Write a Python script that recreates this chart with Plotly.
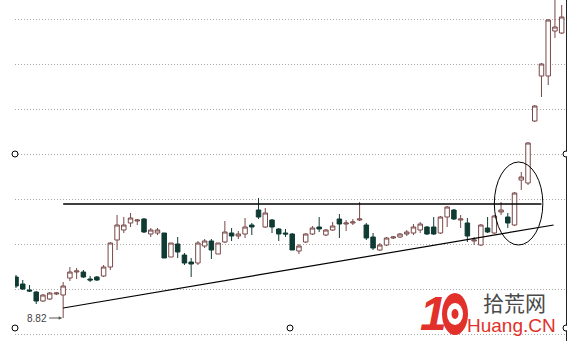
import plotly.graph_objects as go

# ---------------- data ----------------
idx = list(range(82))
opens = [9.23, 9.16, 9.10, 9.08, 8.99, 9.01, 9.06, 9.05, 9.22, 9.28,
         9.28, 9.21, 9.23, 9.24, 9.33, 9.60, 9.70, 9.77, 9.79, 9.81,
         9.66, 9.67, 9.67, 9.43, 9.56, 9.45, 9.38, 9.37, 9.54, 9.59,
         9.46, 9.58, 9.67, 9.64, 9.66, 9.75, 9.90, 9.73, 9.80, 9.71,
         9.67, 9.66, 9.49, 9.58, 9.66, 9.73, 9.65, 9.70, 9.81, 9.76,
         9.77, 9.80, 9.75, 9.63, 9.50, 9.55, 9.62, 9.63, 9.66, 9.67,
         9.70, 9.73, 9.73, 9.67, 9.83, 9.90, 9.80, 9.77, 9.59, 9.55,
         9.72, 9.67, 9.88, 9.83, 9.75, 10.20, 10.17, 10.79, 11.24, 11.24,
         11.69, 11.67]
highs = [9.25, 9.20, 9.15, 9.09, 9.06, 9.08, 9.08, 9.18, 9.33, 9.32,
         9.30, 9.24, 9.24, 9.35, 9.58, 9.85, 9.83, 9.87, 9.81, 9.82,
         9.72, 9.72, 9.67, 9.57, 9.63, 9.47, 9.42, 9.59, 9.61, 9.61,
         9.57, 9.79, 9.72, 9.69, 9.82, 9.77, 10.02, 9.92, 9.81, 9.72,
         9.71, 9.67, 9.56, 9.67, 9.74, 9.83, 9.71, 9.78, 9.86, 9.80,
         9.81, 9.98, 9.77, 9.67, 9.57, 9.63, 9.64, 9.67, 9.70, 9.76,
         9.78, 9.74, 9.83, 9.84, 9.94, 9.91, 9.85, 9.82, 9.63, 9.76,
         9.83, 9.85, 9.98, 9.87, 10.08, 10.28, 10.58, 10.95, 11.37, 11.81,
         12.05, 11.95]
lows = [9.12, 9.10, 9.08, 8.96, 8.98, 9.00, 9.05, 8.82, 9.19, 9.21,
        9.22, 9.18, 9.19, 9.23, 9.30, 9.50, 9.67, 9.73, 9.75, 9.67,
        9.63, 9.65, 9.42, 9.43, 9.42, 9.35, 9.23, 9.35, 9.52, 9.41,
        9.46, 9.57, 9.59, 9.61, 9.62, 9.65, 9.81, 9.72, 9.67, 9.59,
        9.63, 9.50, 9.46, 9.57, 9.65, 9.68, 9.64, 9.69, 9.62, 9.69,
        9.75, 9.79, 9.60, 9.50, 9.49, 9.54, 9.61, 9.62, 9.64, 9.65,
        9.67, 9.65, 9.65, 9.66, 9.73, 9.80, 9.72, 9.58, 9.55, 9.54,
        9.67, 9.66, 9.85, 9.72, 9.74, 10.10, 10.15, 10.78, 11.03, 11.15,
        11.62, 11.66]
closes = [9.14, 9.11, 9.09, 8.99, 9.05, 9.07, 9.07, 9.14, 9.28, 9.29,
          9.23, 9.20, 9.20, 9.33, 9.57, 9.75, 9.75, 9.82, 9.80, 9.68,
          9.70, 9.70, 9.42, 9.57, 9.48, 9.37, 9.36, 9.57, 9.59, 9.50,
          9.57, 9.68, 9.64, 9.66, 9.73, 9.73, 9.83, 9.87, 9.73, 9.66,
          9.66, 9.50, 9.54, 9.66, 9.72, 9.71, 9.70, 9.74, 9.76, 9.77,
          9.78, 9.81, 9.62, 9.52, 9.55, 9.62, 9.63, 9.66, 9.68, 9.73,
          9.76, 9.66, 9.66, 9.83, 9.93, 9.81, 9.81, 9.64, 9.60, 9.75,
          9.68, 9.84, 9.90, 9.77, 10.07, 10.23, 10.57, 10.94, 11.36, 11.80,
          11.73, 11.83]

resistance_level = 9.96
resistance_span = [7, 78]
trend_x = [7, 79.8]
trend_y = [8.92, 9.75]
ellipse_x = [71.0, 78.2]
ellipse_y = [9.55, 10.38]
low_index = 7
low_value = 8.82
low_label = "8.82"
grid_start = 9.11
grid_step = 0.45
x_range = [-0.15, 81.64]
y_range = [8.59, 12.0]

# ---------------- figure ----------------
W, H = 567, 341
ML, MR = 15, 1
PW = W - ML - MR


def px(x):
    return (x - ML) / PW


def py(y):
    return 1 - y / H


UP_LINE = "#7a4848"
DOWN = "#0f3b33"
RED = "#e2302a"

fig = go.Figure(go.Candlestick(
    x=idx, open=opens, high=highs, low=lows, close=closes,
    increasing=dict(line=dict(color=UP_LINE, width=1), fillcolor="#ffffff"),
    decreasing=dict(line=dict(color=DOWN, width=1), fillcolor=DOWN),
    whiskerwidth=0, showlegend=False, hoverinfo="skip"))

shapes = [
    dict(type="line", xref="x", yref="y", x0=resistance_span[0], x1=resistance_span[1],
         y0=resistance_level, y1=resistance_level, line=dict(color="#000000", width=1.6)),
    dict(type="line", xref="x", yref="y", x0=trend_x[0], x1=trend_x[1],
         y0=trend_y[0], y1=trend_y[1], line=dict(color="#000000", width=1.2)),
    dict(type="circle", xref="x", yref="y", x0=ellipse_x[0], x1=ellipse_x[1],
         y0=ellipse_y[0], y1=ellipse_y[1], line=dict(color="#000000", width=1)),
]

# selection handles (small open circles)
for hx, hy in [(15, 154), (15, 328), (290, 328), (566, 154), (566, 328)]:
    shapes.append(dict(type="circle", xref="paper", yref="paper",
                       x0=px(hx - 3), x1=px(hx + 3), y0=py(hy + 3), y1=py(hy - 3),
                       line=dict(color="#000000", width=1), fillcolor="#ffffff"))

# watermark gear "0"
shapes.append(dict(type="circle", xref="paper", yref="paper",
                   x0=px(442), x1=px(468), y0=py(335), y1=py(293),
                   line=dict(color=RED, width=0), fillcolor=RED))
shapes.append(dict(type="circle", xref="paper", yref="paper",
                   x0=px(447), x1=px(463), y0=py(325), y1=py(303),
                   line=dict(color="#ffffff", width=0), fillcolor="#ffffff"))
shapes.append(dict(type="circle", xref="paper", yref="paper",
                   x0=px(451.5), x1=px(458.5), y0=py(319), y1=py(309),
                   line=dict(color=RED, width=0), fillcolor=RED))

annotations = [
    dict(x=low_index, y=low_value, xref="x", yref="y", text=low_label,
         showarrow=True, ax=-14, ay=0, xanchor="right", yanchor="middle",
         arrowhead=2, arrowsize=0.7, arrowwidth=1, arrowcolor="#555555", standoff=1,
         font=dict(family="Liberation Sans, Arial", size=10, color="#444444")),
    dict(x=px(433), y=py(313), xref="paper", yref="paper", text="<b><i>1</i></b>",
         showarrow=False, xanchor="center", yanchor="middle",
         font=dict(family="Liberation Sans, Arial", size=48, color=RED)),
    dict(x=px(514), y=py(302), xref="paper", yref="paper", text="拾荒网",
         showarrow=False, xanchor="center", yanchor="middle",
         font=dict(family="Noto Sans CJK SC", size=21, color="#4a4a4a")),
    dict(x=px(511.5), y=py(325.5), xref="paper", yref="paper", text="Huang.CN",
         showarrow=False, xanchor="center", yanchor="middle",
         font=dict(family="Liberation Sans, Arial", size=19, color=RED)),
]

fig.update_layout(
    width=W, height=H, margin=dict(l=ML, r=MR, t=0, b=0),
    paper_bgcolor="#ffffff", plot_bgcolor="#ffffff",
    boxgap=0.05, boxgroupgap=0.3, showlegend=False,
    xaxis=dict(range=x_range, showgrid=False, zeroline=False, showticklabels=False,
               ticks="", showline=False, rangeslider=dict(visible=False), fixedrange=True),
    yaxis=dict(range=y_range, side="right", showline=True, linecolor="#222222", linewidth=1,
               showgrid=True, gridcolor="#a8a8a8", griddash="1px,2px", gridwidth=1,
               tickmode="linear", tick0=grid_start, dtick=grid_step,
               showticklabels=False, ticks="", zeroline=False, fixedrange=True),
    shapes=shapes, annotations=annotations,
)

fig.write_html("out.html")
